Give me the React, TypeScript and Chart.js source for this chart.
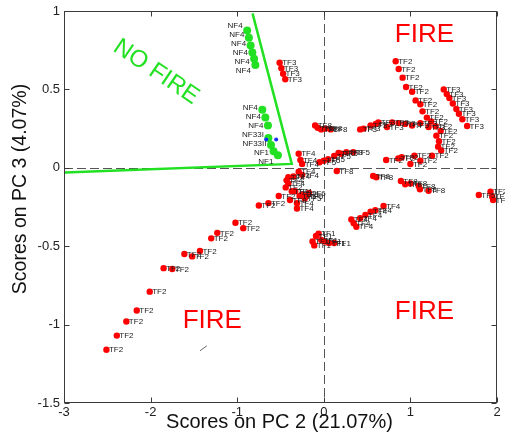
import React, { useEffect, useRef } from "react";
import { Chart, registerables } from "chart.js";

Chart.register(...registerables);

type P = [number, number];

// ---- axes ----
const xTicks = [-3, -2, -1, 0, 1, 2];
const xTickLabels = ["-3", "-2", "-1", "0", "1", "2"];
const yTicks = [-1.5, -1, -0.5, 0, 0.5, 1];
const yTickLabels = ["-1.5", "-1", "-0.5", "0", "0.5", "1"];
const xTitle = "Scores on PC 2 (21.07%)";
const yTitle = "Scores on PC 3 (4.07%)";

// ---- fire samples (PC2, PC3 scores) ----
const tf1: P[] = [[-0.13, -0.47], [-0.09, -0.435], [-0.06, -0.42], [-0.11, -0.495], [-0.03, -0.46], [0.01, -0.47], [0.06, -0.48], [0.12, -0.48]];
const tf2: P[] = [
  [-2.51, -1.16], [-2.39, -1.07], [-2.28, -0.98], [-2.16, -0.91], [-2.01, -0.79], [-1.85, -0.64], [-1.75, -0.645],
  [-1.61, -0.55], [-1.52, -0.565], [-1.43, -0.53], [-1.3, -0.45], [-1.23, -0.415], [-1.02, -0.35], [-0.93, -0.385],
  [-0.75, -0.24], [-0.64, -0.225], [-0.52, -0.18], [-0.44, -0.125],
  [0.83, 0.68], [0.865, 0.63], [0.91, 0.575], [0.95, 0.515], [1.02, 0.485], [1.06, 0.43], [1.115, 0.405], [1.14, 0.36],
  [1.19, 0.32], [1.24, 0.295], [1.29, 0.265], [1.35, 0.235], [1.3, 0.205], [1.33, 0.17], [1.32, 0.135], [1.355, 0.11],
  [1.25, 0.077], [1.115, 0.045], [1.046, 0.077], [1.0, 0.024], [0.9, 0.067], [0.86, 0.06], [0.72, 0.05],
  [1.925, -0.152], [1.945, -0.184], [1.955, -0.205],
];
const tf3: P[] = [
  [-0.51, 0.67], [-0.49, 0.635], [-0.47, 0.6], [-0.445, 0.565],
  [1.385, 0.5], [1.42, 0.47], [1.45, 0.445], [1.49, 0.41], [1.53, 0.375], [1.56, 0.345], [1.6, 0.31], [1.655, 0.267],
  [0.42, 0.245], [0.46, 0.25], [0.54, 0.27], [0.6, 0.28], [0.63, 0.29], [0.73, 0.26], [0.79, 0.29], [0.865, 0.285],
  [0.94, 0.28], [1.02, 0.27], [1.115, 0.285], [1.21, 0.26],
];
const tf4: P[] = [
  [-0.29, 0.09], [-0.27, 0.05], [-0.25, 0.025], [-0.29, -0.025], [-0.25, -0.045], [-0.35, -0.055], [-0.41, -0.06],
  [-0.43, -0.08], [-0.41, -0.1], [-0.37, -0.15], [-0.33, -0.15], [-0.31, -0.226], [-0.31, -0.26],
  [0.318, -0.33], [0.345, -0.354], [0.376, -0.376], [0.42, -0.322], [0.48, -0.3], [0.54, -0.28], [0.595, -0.27], [0.69, -0.244],
];
const tf5: P[] = [
  [-0.05, 0.035], [0.0, 0.045], [0.05, 0.055], [0.12, 0.075], [0.2, 0.09], [0.34, 0.1],
  [-0.22, -0.195], [-0.25, -0.17], [-0.28, -0.18], [-0.2, -0.18], [1.79, -0.173],
];
const tf6: P[] = [[0.17, 0.095], [-0.17, -0.16]];
const tf8: P[] = [
  [-0.1, 0.27], [-0.07, 0.255], [-0.03, 0.245], [0.02, 0.25], [0.08, 0.245], [0.15, -0.02], [0.26, 0.1], [-0.39, -0.205],
  [0.57, -0.052], [0.607, -0.06], [0.89, -0.084], [0.94, -0.105], [1.0, -0.1], [1.096, -0.116], [1.11, -0.137], [1.21, -0.146],
];

// ---- no-fire samples ----
const nf4: P[] = [
  [-0.885, 0.875], [-0.865, 0.83], [-0.845, 0.78], [-0.825, 0.735], [-0.805, 0.695], [-0.79, 0.655],
  [-0.71, 0.37], [-0.675, 0.32], [-0.645, 0.27],
];
const nf33i: P[] = [[-0.64, 0.19]];
const nf33ii: P[] = [[-0.61, 0.145]];
const nf1: P[] = [[-0.58, 0.105], [-0.53, 0.08]];
const blueMarks: P[] = [[-0.665, 0.18], [-0.55, 0.18]];

// ---- boundary drawn by hand ----
const wedge: P[] = [[-0.823, 0.985], [-0.37, 0.025], [-2.99, -0.03]];
const strayMark: P[] = [[-1.43, -1.167], [-1.35, -1.135]];

// ---- annotations (data coords) ----
const fireTexts = [
  { text: "FIRE", x: 1.162, y: 0.85 },
  { text: "FIRE", x: 1.162, y: -0.916 },
  { text: "FIRE", x: -1.287, y: -0.976 },
];
const noFireText = { text: "NO FIRE", x: -1.936, y: 0.611, angle: 34 };

const FONT = '"Liberation Sans", Arial, Helvetica, sans-serif';
const RED = "#ff0000";
const GREEN = "#22e022";

const toXY = (a: P[]) => a.map(([x, y]) => ({ x, y }));

const redSet = (name: string, pts: P[]) => ({
  label: name,
  pointText: name,
  textSide: "right",
  data: toXY(pts),
  backgroundColor: RED,
  borderColor: RED,
  pointRadius: 3.2,
  pointBorderWidth: 0,
  showLine: false,
});
const greenSet = (name: string, pts: P[]) => ({
  label: name,
  pointText: name,
  textSide: "left",
  data: toXY(pts),
  backgroundColor: GREEN,
  borderColor: GREEN,
  pointRadius: 4,
  pointBorderWidth: 0,
  showLine: false,
});

// spread stacked left-side labels so they do not overlap
function spreadLabels(items: { x: number; y: number; text: string }[], gap: number) {
  items.sort((a, b) => a.y - b.y);
  const groups: { x: number; y: number; text: string }[][] = [];
  items.forEach((it) => {
    const g = groups[groups.length - 1];
    if (g && it.y - g[g.length - 1].y < gap * 1.6) g.push(it);
    else groups.push([it]);
  });
  const out: { x: number; y: number; text: string }[] = [];
  groups.forEach((g) => {
    const mean = g.reduce((s, it) => s + it.y, 0) / g.length;
    const start = mean - ((g.length - 1) * gap) / 2;
    g.forEach((it, i) => out.push({ ...it, y: Math.max(it.y, 0) * 0 + start + i * gap }));
  });
  return out;
}

const decor = {
  id: "decor",
  beforeDatasetsDraw(chart: any) {
    const { ctx, chartArea: a, scales } = chart;
    const x = scales.x, y = scales.y;
    ctx.save();
    ctx.strokeStyle = "#555";
    ctx.lineWidth = 1;
    ctx.setLineDash([9, 4]);
    const x0 = Math.round(x.getPixelForValue(0)) + 0.5;
    const y0 = Math.round(y.getPixelForValue(0)) + 0.5;
    ctx.beginPath();
    ctx.moveTo(x0, a.top);
    ctx.lineTo(x0, a.bottom);
    ctx.moveTo(a.left, y0);
    ctx.lineTo(a.right, y0);
    ctx.stroke();
    ctx.restore();
  },
  afterDatasetsDraw(chart: any) {
    const { ctx, chartArea: a, scales } = chart;
    const x = scales.x, y = scales.y;
    ctx.save();
    // point labels
    ctx.font = `8px ${FONT}`;
    ctx.fillStyle = "#1a1a1a";
    ctx.textBaseline = "middle";
    const leftItems: { x: number; y: number; text: string }[] = [];
    chart.data.datasets.forEach((ds: any, i: number) => {
      if (!ds.pointText) return;
      const meta = chart.getDatasetMeta(i);
      meta.data.forEach((el: any) => {
        if (ds.textSide === "left") {
          leftItems.push({ x: el.x - 4.5, y: el.y, text: ds.pointText });
        } else {
          ctx.textAlign = "left";
          ctx.fillText(ds.pointText, el.x + 2.5, el.y + 0.5);
        }
      });
    });
    ctx.textAlign = "right";
    spreadLabels(leftItems, 9).forEach((it) => ctx.fillText(it.text, it.x, it.y));
    // FIRE / NO FIRE
    ctx.font = `26px ${FONT}`;
    ctx.fillStyle = RED;
    ctx.textAlign = "center";
    ctx.textBaseline = "middle";
    fireTexts.forEach((t) => ctx.fillText(t.text, x.getPixelForValue(t.x), y.getPixelForValue(t.y)));
    ctx.save();
    ctx.fillStyle = GREEN;
    ctx.font = `24px ${FONT}`;
    ctx.translate(x.getPixelForValue(noFireText.x), y.getPixelForValue(noFireText.y));
    ctx.rotate((noFireText.angle * Math.PI) / 180);
    ctx.fillText(noFireText.text, 0, 0);
    ctx.restore();
    // box
    ctx.strokeStyle = "#3a3a3a";
    ctx.lineWidth = 1;
    const L = Math.round(a.left) + 0.5, R = Math.round(a.right) - 0.5;
    const T = Math.round(a.top) + 0.5, B = Math.round(a.bottom) - 0.5;
    ctx.strokeRect(L, T, R - L, B - T);
    // inward ticks
    const tl = 5;
    ctx.beginPath();
    xTicks.forEach((v) => {
      const px = Math.round(x.getPixelForValue(v)) + 0.5;
      ctx.moveTo(px, B); ctx.lineTo(px, B - tl);
      ctx.moveTo(px, T); ctx.lineTo(px, T + tl);
    });
    yTicks.forEach((v) => {
      const py = Math.round(y.getPixelForValue(v)) + 0.5;
      ctx.moveTo(L, py); ctx.lineTo(L + tl, py);
      ctx.moveTo(R, py); ctx.lineTo(R - tl, py);
    });
    ctx.stroke();
    // tick labels
    ctx.fillStyle = "#222";
    ctx.font = `13px ${FONT}`;
    ctx.textAlign = "center";
    ctx.textBaseline = "top";
    xTicks.forEach((v, i) => ctx.fillText(xTickLabels[i], x.getPixelForValue(v), a.bottom + 3));
    ctx.textAlign = "right";
    ctx.textBaseline = "middle";
    yTicks.forEach((v, i) => ctx.fillText(yTickLabels[i], a.left - 4, y.getPixelForValue(v)));
    // titles
    ctx.fillStyle = "#111";
    ctx.font = `20px ${FONT}`;
    ctx.textAlign = "center";
    ctx.textBaseline = "middle";
    ctx.fillText(xTitle, (a.left + a.right) / 2 - 1, a.bottom + 19);
    ctx.save();
    ctx.translate(20.5, 189);
    ctx.rotate(-Math.PI / 2);
    ctx.font = `19.5px ${FONT}`;
    ctx.fillText(yTitle, 0, 0);
    ctx.restore();
    ctx.restore();
  },
};

export default function App() {
  const ref = useRef<HTMLCanvasElement>(null);
  useEffect(() => {
    document.body.style.margin = "0";
    const canvas = ref.current!;
    const datasets: any[] = [
      redSet("TF1", tf1),
      redSet("TF2", tf2),
      redSet("TF3", tf3),
      redSet("TF4", tf4),
      redSet("TF5", tf5),
      redSet("TF6", tf6),
      redSet("TF8", tf8),
      {
        label: "marks",
        data: toXY(blueMarks),
        backgroundColor: "#1030ff",
        pointRadius: 2,
        pointBorderWidth: 0,
        showLine: false,
      },
      greenSet("NF4", nf4),
      greenSet("NF33I", nf33i),
      greenSet("NF33II", nf33ii),
      greenSet("NF1", nf1),
      {
        label: "boundary",
        data: toXY(wedge),
        showLine: true,
        borderColor: GREEN,
        borderWidth: 2.5,
        pointRadius: 0,
        tension: 0,
      },
      {
        label: "stray",
        data: toXY(strayMark),
        showLine: true,
        borderColor: "#666",
        borderWidth: 1,
        pointRadius: 0,
      },
    ];
    const chart = new Chart(canvas, {
      type: "scatter",
      data: { datasets },
      options: {
        responsive: false,
        animation: false,
        devicePixelRatio: 1,
        events: [],
        layout: { padding: { left: 64, right: 8, top: 11, bottom: 34 } },
        scales: {
          x: { type: "linear", min: -3, max: 2, display: false },
          y: { type: "linear", min: -1.5, max: 1, display: false },
        },
        plugins: { legend: { display: false }, tooltip: { enabled: false } },
      },
      plugins: [decor],
    } as any);
    return () => chart.destroy();
  }, []);
  return <canvas ref={ref} width={505} height={437} style={{ display: "block", width: 505, height: 437 }} />;
}
